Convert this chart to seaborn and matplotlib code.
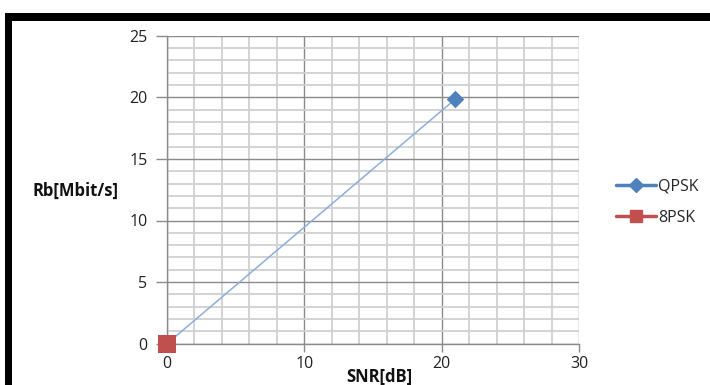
import matplotlib
matplotlib.use("Agg")
import matplotlib.pyplot as plt
import seaborn as sns
import pandas as pd
from matplotlib.lines import Line2D
from matplotlib.patches import Rectangle

# Data
qpsk_snr = [0, 21]
qpsk_rb = [0, 19.86]
psk8_snr = [0]
psk8_rb = [0]
x_ticks = [0, 10, 20, 30]
y_ticks = [0, 5, 10, 15, 20, 25]
series_names = ["QPSK", "8PSK"]

sns.set_style("white")
plt.rcParams['font.family'] = ['Open Sans', 'DejaVu Sans']

fig = plt.figure(figsize=(7.1, 3.85), dpi=100)
ax = fig.add_axes([167/710, 41.3/385, 412/710, 308/385])

df_q = pd.DataFrame({"snr": qpsk_snr, "rb": qpsk_rb})
df_8 = pd.DataFrame({"snr": psk8_snr, "rb": psk8_rb})

blue = "#4F81BD"
red = "#C0504D"

# grid
ax.set_xlim(0, 30)
ax.set_ylim(0, 25)
ax.set_xticks(x_ticks)
ax.set_yticks(y_ticks)
ax.set_xticks(range(0, 31, 2), minor=True)
ax.set_yticks(range(0, 26, 1), minor=True)
ax.grid(which="minor", color="#D0D0D0", linewidth=1.3, zorder=0)
ax.grid(which="major", color="#8A8A8A", linewidth=1.0, zorder=0)
ax.set_axisbelow(True)

sns.lineplot(data=df_q, x="snr", y="rb", ax=ax, color="#8CAEDB", linewidth=1.1, legend=False, zorder=3)
sns.scatterplot(data=df_q.iloc[1:], x="snr", y="rb", ax=ax, color=blue, marker="D", s=80,
                edgecolor=blue, linewidth=0, legend=False, zorder=4, clip_on=False)
sns.scatterplot(data=df_8, x="snr", y="rb", ax=ax, color=red, marker="s", s=150,
                edgecolor=red, linewidth=0, legend=False, zorder=5, clip_on=False)

for s in ["top", "right"]:
    ax.spines[s].set_visible(False)
for s in ["left", "bottom"]:
    ax.spines[s].set_color("#8A8A8A")
    ax.spines[s].set_linewidth(1.0)

ax.tick_params(axis="y", which="major", direction="out", length=8, width=1, color="#8A8A8A",
               labelsize=11.5, pad=6, left=True)
ax.tick_params(axis="x", which="major", direction="out", length=6, width=1, color="#8A8A8A",
               labelsize=11.5, pad=3, bottom=True)
ax.tick_params(which="minor", length=0)
ax.tick_params(axis="both", labelcolor="#222222")

ax.set_xlabel("")
ax.set_ylabel("")
fig.text(76/710, 1 - 191/385, "Rb[Mbit/s]", ha="center", va="center", fontsize=12,
         fontweight="bold", color="#111111")
fig.text(379/710, 1 - 377/385, "SNR[dB]", ha="center", va="center", fontsize=12,
         fontweight="bold", color="#111111")

handles = [
    Line2D([0], [0], color=blue, linewidth=2.5, marker="D", markersize=7, markerfacecolor=blue, markeredgecolor=blue),
    Line2D([0], [0], color=red, linewidth=2.5, marker="s", markersize=8, markerfacecolor=red, markeredgecolor=red),
]
fig.legend(handles, series_names, loc="center left", bbox_to_anchor=(610/710, 1 - 202/385),
           frameon=False, fontsize=11.5, handlelength=2.5, handletextpad=0.1, labelspacing=0.95,
           borderaxespad=0)

# black frame (top and left border)
fig.add_artist(Rectangle((5/710, -0.1), 7/710, 1.1 - 13/385, transform=fig.transFigure,
                         facecolor="black", edgecolor="none"))
fig.add_artist(Rectangle((5/710, 1 - 21/385), 1.0, 8/385, transform=fig.transFigure,
                         facecolor="black", edgecolor="none"))

fig.savefig("out.png", dpi=100)
